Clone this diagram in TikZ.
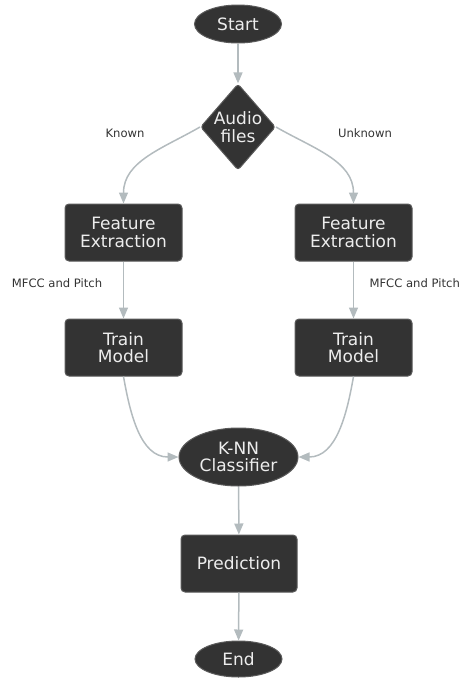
\documentclass[tikz,border=0pt]{standalone}
\usepackage{fontspec}
\setmainfont{DejaVu Sans}
\usepackage{xcolor}
\usepackage{tikz}
\usetikzlibrary{arrows.meta,shapes.geometric}

\definecolor{nodefill}{HTML}{333333}
\definecolor{nodeline}{HTML}{5A5A5A}
\definecolor{nodetext}{HTML}{EDEDED}
\definecolor{flowgray}{HTML}{B3BBBE}
\definecolor{labeltext}{HTML}{333333}

\tikzset{
  base/.style={fill=nodefill, draw=nodeline, line width=1pt, text=nodetext,
    align=center, inner sep=0pt, font=\fontsize{17}{17.5}\selectfont},
  terminal/.style={base, ellipse},
  decision/.style={base, diamond, rounded corners=3pt, aspect=0.87},
  process/.style={base, rectangle, rounded corners=4pt,
    minimum width=117pt, minimum height=57pt},
  flow/.style={draw=flowgray, line width=1.5pt,
    -{Triangle[length=11pt,width=9pt]}},
  flowlabel/.style={text=labeltext, font=\fontsize{11.6}{14}\selectfont}
}

\begin{document}
\begin{tikzpicture}[x=1pt,y=-1pt]
\useasboundingbox (0,0) rectangle (464,678);
% nodes
\node[terminal, minimum width=87pt, minimum height=38pt] (start) at (238,24) {Start};
\node[decision] (audio) at (238,127) {Audio\\files};
\node[process] (featL) at (123.5,232.5) {Feature\\Extraction};
\node[process] (featR) at (353.5,232.5) {Feature\\Extraction};
\node[process] (trainL) at (123.5,347.5) {Train\\Model};
\node[process] (trainR) at (353.5,347.5) {Train\\Model};
\node[terminal, minimum width=119pt, minimum height=58pt] (knn) at (238.5,457) {K-NN\\Classifier};
\node[process, minimum width=116pt] (pred) at (239,563.5) {Prediction};
\node[terminal, minimum width=87pt, minimum height=36pt] (stop) at (238.5,659) {End};
% labels
\node[flowlabel] (known) at (125,133) {Known};
\node[flowlabel] (unknown) at (365,133) {Unknown};
\node[flowlabel] (mfccL) at (57,283) {MFCC and Pitch};
\node[flowlabel, anchor=west] (mfccR) at (366,283) {MFCC and Pitch};
% connectors
\draw[flow] (start) -- (audio);
\draw[flow] (audio.west) to[out=210, in=90] (featL.north);
\draw[flow] (audio.east) to[out=-30, in=90] (featR.north);
\draw[flow] (featL) -- (trainL);
\draw[flow] (featR) -- (trainR);
\draw[flow] (trainL.south) to[out=-80, in=180] (knn.west);
\draw[flow] (trainR.south) to[out=-100, in=0] (knn.east);
\draw[flow] (knn) -- (pred);
\draw[flow] (pred) -- (stop);
\end{tikzpicture}
\end{document}
